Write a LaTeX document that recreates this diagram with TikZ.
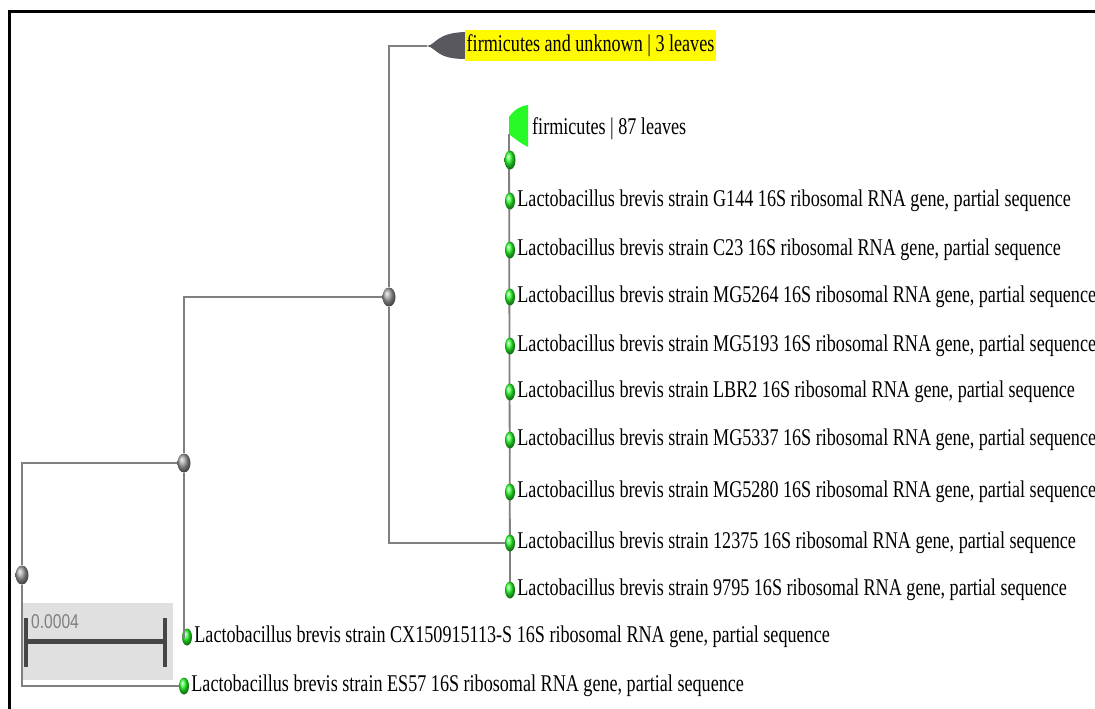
\documentclass[tikz,border=0pt]{standalone}
\usepackage{fontspec}
\setmainfont[FakeStretch=0.755]{Liberation Serif}
\newfontfamily\scalefont[FakeStretch=0.78]{Liberation Sans}
\usetikzlibrary{positioning,shapes.geometric,backgrounds}
\definecolor{branchgray}{RGB}{128,128,128}
\definecolor{leafgreen}{RGB}{40,250,40}
\definecolor{cladegray}{RGB}{88,88,94}
\definecolor{hiyellow}{RGB}{255,250,0}
\definecolor{scalebox}{RGB}{224,224,224}
\definecolor{scalebar}{RGB}{70,70,70}
\tikzset{
	branch/.style={draw=branchgray,line width=2.2pt},
	inner/.style={ellipse,shade,ball color=gray!75,minimum width=13pt,minimum height=19pt,inner sep=0pt},
	leafdot/.style={ellipse,shade,ball color=leafgreen,minimum width=10pt,minimum height=17pt,inner sep=0pt},
	leaflabel/.style={right=2pt of #1,inner sep=0pt,font=\fontsize{24}{26}\selectfont}
}

\begin{document}
\begin{tikzpicture}[x=1pt,y=-1pt]
	\useasboundingbox (0,0) rectangle (1095,709);
	\draw [line width=3pt](9,709)--(9,12)--(1095,12);
	\fill [scalebox](22,603) rectangle(173,680);
	\node (sc) at(31,622)[right,inner sep=0pt,text=gray,font=\scalefont\fontsize{20}{22}\selectfont]{0.0004};
	\draw [scalebar,line width=5pt](26,641)--(165,641);
	\foreach \x in {26,165}
		\draw [scalebar,line width=4pt](\x,618)--(\x,667);
	\node [inner] (root) at(22,575){};
	\node [inner] (n2) at(184,463){};
	\node [inner] (n3) at(389,297){};
	\coordinate (ctip) at(427,46);
	\fill [cladegray](ctip) .. controls (437,44) and (436,33) .. (465,32)--(465,59) .. controls (436,59) and (437,48) .. (ctip);
	\node (cname) at(465,46)[right,fill=hiyellow,inner xsep=1.5pt,minimum height=31pt,font=\fontsize{24}{26}\selectfont]{firmicutes and unknown | 3 leaves};
	\coordinate (gfoot) at(509,134);
	\fill [leafgreen](509,117) .. controls (514,110) and (520,106) .. (528,105)--(528,147) .. controls (520,143) and (514,138) .. (gfoot)--cycle;
	\node (gname) at(532,129)[right,inner sep=0pt,font=\fontsize{24}{26}\selectfont]{firmicutes | 87 leaves};
	\node [leafdot,minimum width=11pt,minimum height=19pt] (d0) at(510,160){};
	\foreach \i/\y/\s in {1/201/G144,2/250/C23,3/297/MG5264,4/346/MG5193,5/392/LBR2,6/440/MG5337,7/492/MG5280,8/543/12375,9/590/9795}{
		\node [leafdot] (d\i) at(510,\y){};
		\node [leaflabel=d\i] (l\i){Lactobacillus brevis strain \s{} 16S ribosomal RNA gene, partial sequence};
	}
	\node [leafdot] (cx) at(187,637){};
	\node [leaflabel=cx] (lcx){Lactobacillus brevis strain CX150915113-S 16S ribosomal RNA gene, partial sequence};
	\node [leafdot] (es) at(184,686){};
	\node [leaflabel=es] (les){Lactobacillus brevis strain ES57 16S ribosomal RNA gene, partial sequence};
	\begin{scope}[on background layer]
		\draw [branch,line width=1.8pt](gfoot)--(d9.center);
	\end{scope}
	\draw [branch](n2)-|(root)|-(es);
	\draw [branch](n3)-|(n2)|-(cx);
	\draw [branch](ctip)-|(n3)|-(d8);
\end{tikzpicture}
\end{document}
